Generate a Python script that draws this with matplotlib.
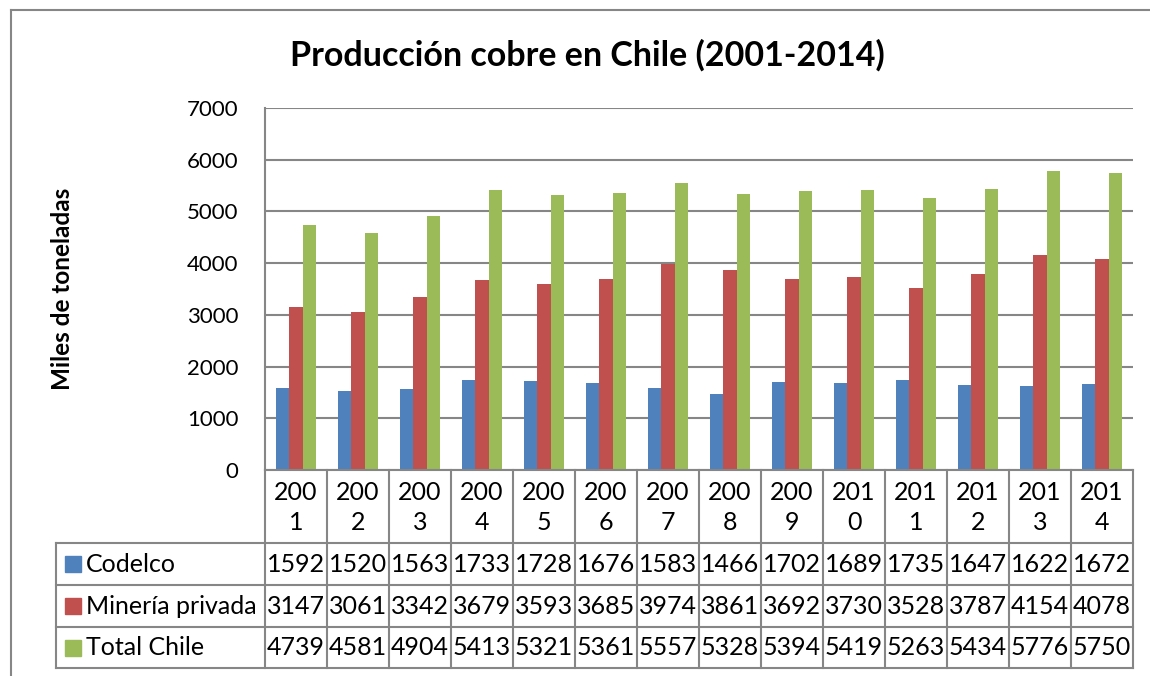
import numpy as np
import matplotlib
matplotlib.use("Agg")
import matplotlib.pyplot as plt
from matplotlib.lines import Line2D
from matplotlib.patches import Rectangle

# Data
years = ["2001", "2002", "2003", "2004", "2005", "2006", "2007",
         "2008", "2009", "2010", "2011", "2012", "2013", "2014"]
codelco = [1592, 1520, 1563, 1733, 1728, 1676, 1583, 1466, 1702, 1689, 1735, 1647, 1622, 1672]
mineria_privada = [3147, 3061, 3342, 3679, 3593, 3685, 3974, 3861, 3692, 3730, 3528, 3787, 4154, 4078]
total_chile = [4739, 4581, 4904, 5413, 5321, 5361, 5557, 5328, 5394, 5419, 5263, 5434, 5776, 5750]
series_names = ["Codelco", "Minería privada", "Total Chile"]
y_ticks = [0, 1000, 2000, 3000, 4000, 5000, 6000, 7000]

colors = ["#4F81BD", "#C0504D", "#9BBB59"]
grid_color = "#868686"
font = "Lato"

W, H = 1150, 676
fig = plt.figure(figsize=(W / 100, H / 100), dpi=100)


def fx(x):
    return x / W


def fy(y):
    return 1 - y / H


def hline(y, x0, x1, lw=1.5):
    fig.add_artist(Line2D([fx(x0), fx(x1)], [fy(y), fy(y)], color=grid_color, lw=lw))


def vline(x, y0, y1, lw=1.5):
    fig.add_artist(Line2D([fx(x), fx(x)], [fy(y0), fy(y1)], color=grid_color, lw=lw))


# outer chart frame
hline(10, 11, 1150)
vline(11, 10, 676)

# plot area
left, right, top, bottom = 265, 1133, 108, 470
ax = fig.add_axes([fx(left), fy(bottom), fx(right) - fx(left), (bottom - top) / H])
n = len(years)
x = np.arange(n)
w = 0.22
for i, vals in enumerate([codelco, mineria_privada, total_chile]):
    ax.bar(x + (i - 1) * w, vals, width=w, color=colors[i], zorder=3)
ax.set_xlim(-0.5, n - 0.5)
ax.set_ylim(0, 7000)
ax.set_yticks(y_ticks)
ax.set_yticklabels([str(t) for t in y_ticks], fontsize=16, family=font)
ax.tick_params(axis="y", length=0, pad=19)
ax.set_xticks([])
ax.grid(axis="y", color=grid_color, lw=1.5, zorder=0)
for s in ["top", "right"]:
    ax.spines[s].set_visible(False)
ax.spines["left"].set_color(grid_color)
ax.spines["left"].set_linewidth(1.5)
ax.spines["bottom"].set_visible(False)

fig.text(fx(62), fy(289), "Miles de toneladas", rotation=90, ha="center", va="center",
         fontsize=17.5, fontweight="bold", family=font)
fig.text(fx(587), fy(55), "Producción cobre en Chile (2001-2014)", ha="center", va="center",
         fontsize=24.5, fontweight="bold", family=font)

# data table
col_w = (right - left) / n
row_y = [470, 543, 585, 627, 668]
tab_left = 56
hline(row_y[0], left, right)
for y in row_y[1:]:
    hline(y, tab_left, right)
for i in range(n + 1):
    vline(left + i * col_w, row_y[0], row_y[-1])
vline(tab_left, row_y[1], row_y[-1])

for i, yr in enumerate(years):
    cx = left + (i + 0.5) * col_w
    fig.text(fx(cx), fy(492), yr[:3], ha="center", va="center", fontsize=18, family=font)
    fig.text(fx(cx), fy(523), yr[3:], ha="center", va="center", fontsize=18, family=font)

for r, (name, vals) in enumerate(zip(series_names, [codelco, mineria_privada, total_chile])):
    cy = (row_y[r + 1] + row_y[r + 2]) / 2
    fig.add_artist(Rectangle((fx(65), fy(cy + 8)), 16 / W, 16 / H, color=colors[r]))
    fig.text(fx(86), fy(cy), name, ha="left", va="center", fontsize=18, family=font)
    for i, v in enumerate(vals):
        cx = left + (i + 0.5) * col_w
        fig.text(fx(cx), fy(cy), str(v), ha="center", va="center", fontsize=18, family=font)

fig.savefig("out.png", dpi=100)
